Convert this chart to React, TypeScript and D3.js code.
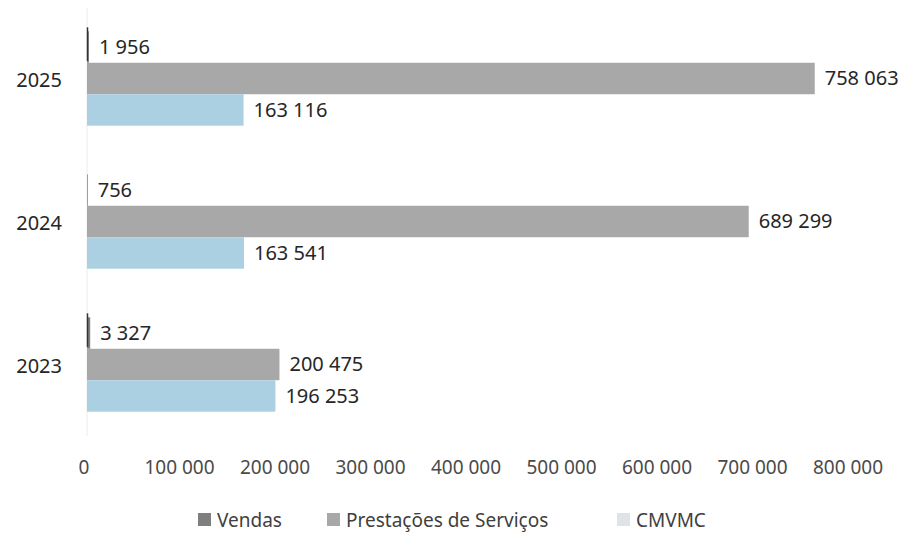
import React, { useEffect, useRef } from 'react';
import * as d3 from 'd3';

const years = ['2025', '2024', '2023'];
const seriesNames = ['Vendas', 'Prestações de Serviços', 'CMVMC'];
const vendas = [1956, 756, 3327];
const prestacoes = [758063, 689299, 200475];
const cmvmc = [163116, 163541, 196253];
const xTicks = [0, 100000, 200000, 300000, 400000, 500000, 600000, 700000, 800000];
const colors = ['#7f7f7f', '#a8a8a8', '#abd0e1'];

const fmt = (v) => d3.format(',')(v).replace(/,/g, ' ');

const App = () => {
  const svgRef = useRef();

  useEffect(() => {
    const svg = d3.select(svgRef.current);
    const font = "'Noto Sans', 'Open Sans', sans-serif";

    const values = [vendas, prestacoes, cmvmc];
    const rows = years.map((y, i) => ({
      year: y,
      vals: seriesNames.map((s, j) => ({ key: s, value: values[j][i], idx: j })),
    }));

    // scales
    const x = d3.scaleLinear().domain([0, 800000]).range([87, 855]);
    const y0 = d3
      .scaleBand()
      .domain(years)
      .range([7, 436])
      .paddingInner(0.34)
      .paddingOuter(0.17);
    const y1 = d3.scaleBand().domain(seriesNames).range([0, y0.bandwidth()]);

    // faint axis line
    svg
      .append('line')
      .attr('x1', x(0))
      .attr('x2', x(0))
      .attr('y1', 8)
      .attr('y2', 436)
      .attr('stroke', '#ececec');

    const groups = svg
      .selectAll('.grp')
      .data(rows)
      .enter()
      .append('g')
      .attr('class', 'grp')
      .attr('transform', (d) => `translate(0,${y0(d.year)})`);

    groups
      .selectAll('rect')
      .data((d) => d.vals)
      .enter()
      .append('rect')
      .attr('x', x(0))
      .attr('y', (d) => y1(d.key))
      .attr('width', (d) => Math.max(0, x(d.value) - x(0)))
      .attr('height', y1.bandwidth())
      .attr('fill', (d) => colors[d.idx]);

    // thin dark marks for tiny Vendas bars
    groups
      .selectAll('.tiny')
      .data((d) => d.vals.filter((v) => v.idx === 0 && v.value > 1000))
      .enter()
      .append('line')
      .attr('x1', x(0) + 0.5)
      .attr('x2', x(0) + 0.5)
      .attr('y1', (d) => y1(d.key) - 4)
      .attr('y2', (d) => y1(d.key) + y1.bandwidth() - 2)
      .attr('stroke', '#333')
      .attr('stroke-width', 1.5);

    groups
      .selectAll('.lbl')
      .data((d) => d.vals)
      .enter()
      .append('text')
      .attr('class', 'lbl')
      .attr('x', (d) => x(d.value) + 10)
      .attr('y', (d) => y1(d.key) + y1.bandwidth() / 2)
      .attr('dy', '0.35em')
      .attr('font-family', font)
      .attr('font-size', 20)
      .attr('fill', '#262626')
      .text((d) => fmt(d.value));

    // category labels
    svg
      .selectAll('.cat')
      .data(years)
      .enter()
      .append('text')
      .attr('class', 'cat')
      .attr('x', 62)
      .attr('y', (d) => y0(d) + y0.bandwidth() / 2 + 1)
      .attr('dy', '0.35em')
      .attr('text-anchor', 'end')
      .attr('font-family', font)
      .attr('font-size', 20)
      .attr('fill', '#262626')
      .text((d) => d);

    // x tick labels
    svg
      .selectAll('.tick')
      .data(xTicks)
      .enter()
      .append('text')
      .attr('class', 'tick')
      .attr('x', (d) => x(d) - 3 - d / 200000)
      .attr('y', 467)
      .attr('dy', '0.35em')
      .attr('text-anchor', 'middle')
      .attr('font-family', font)
      .attr('font-size', 19)
      .attr('fill', '#4a4a4a')
      .text((d) => fmt(d));

    // legend
    const legendX = [198, 327, 617];
    const legend = svg
      .selectAll('.leg')
      .data(seriesNames)
      .enter()
      .append('g')
      .attr('class', 'leg')
      .attr('transform', (d, i) => `translate(${legendX[i]},520)`);
    legend
      .append('rect')
      .attr('x', 0)
      .attr('y', -7)
      .attr('width', 13)
      .attr('height', 13)
      .attr('fill', (d, i) => (i === 2 ? '#dfe3e6' : colors[i]));
    legend
      .append('text')
      .attr('x', 19)
      .attr('y', 0)
      .attr('dy', '0.35em')
      .attr('font-family', font)
      .attr('font-size', 19)
      .attr('fill', '#404040')
      .text((d) => d);

    return () => {
      svg.selectAll('*').remove();
    };
  }, []);

  return (
    <div style={{ position: 'absolute', left: 0, top: 0 }}>
      <svg ref={svgRef} width={909} height={542} style={{ display: 'block', background: '#fff' }}></svg>
    </div>
  );
};

export default App;
